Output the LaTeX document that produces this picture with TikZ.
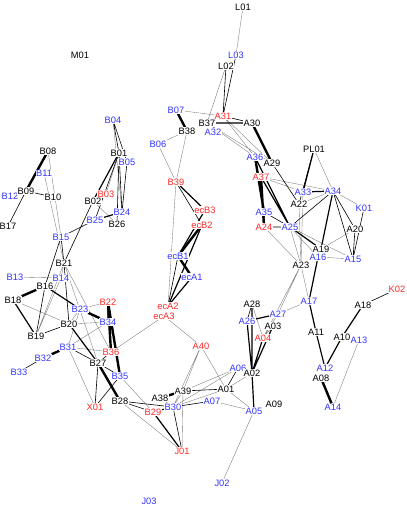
\documentclass[tikz,border=0pt]{standalone}
\usepackage{fontspec}
\setmainfont{Liberation Sans}
\usepackage{xcolor}
\usepackage{tikz}
\usetikzlibrary{backgrounds}
\definecolor{ink}{RGB}{0,0,0}
\definecolor{labblue}{RGB}{51,51,255}
\definecolor{labred}{RGB}{255,40,40}
\definecolor{wire}{RGB}{120,120,120}
\tikzset{
  lab/.style={fill=white, inner sep=0.3pt, font=\fontsize{9.3}{10}\selectfont},
  bk/.style={lab, text=ink},
  bl/.style={lab, text=labblue},
  rd/.style={lab, text=labred},
  ln/.style={draw=wire, line width=0.35pt},
  ed/.style={draw=ink, line width=0.6pt},
  tk/.style={draw=ink, line width=1.2pt},
  vt/.style={draw=ink, line width=2.4pt},
}

\begin{document}
\begin{tikzpicture}[x=1pt, y=-1pt]
  \useasboundingbox (0,0) rectangle (407,509);
  % labels, top part
  \node[bk] (L01) at (243,7) {L01};
  \node[bk] (M01) at (80,55) {M01};
  \node[bl] (L03) at (236,55) {L03};
  \node[bk] (L02) at (226,66) {L02};
  \node[bl] (B07) at (176,110) {B07};
  \node[bl] (A32) at (213,132) {A32};
  \node[rd] (A31) at (223,116) {A31};
  \node[bk] (B37) at (207,123) {B37};
  \node[bk] (A30) at (252,123) {A30};
  \node[bl] (B04) at (113,120) {B04};
  \node[bk] (B38) at (187,131) {B38};
  \node[bl] (B06) at (158,144) {B06};
  \node[bk] (PL01) at (314,149) {PL01};
  \node[bk] (B08) at (48,151) {B08};
  \node[bk] (B01) at (119,153) {B01};
  \node[bl] (A36) at (255,157) {A36};
  \node[bk] (A29) at (272,163) {A29};
  \node[bl] (B05) at (127,162) {B05};
  \node[bl] (B11) at (44,173) {B11};
  \node[rd] (A37) at (261,177) {A37};
  \node[rd] (B39) at (176,182) {B39};
  \node[bl] (K01) at (364,208) {K01};
  \node[bl] (A33) at (303,192) {A33};
  \node[bl] (A34) at (333,191) {A34};
  \node[bl] (B12) at (10,196) {B12};
  \node[bk] (B09) at (26,191) {B09};
  \node[bk] (B10) at (53,197) {B10};
  \node[rd] (B03) at (106,194) {B03};
  \node[bk] (B02) at (93,201) {B02};
  \node[bk] (A22) at (299,204) {A22};
  \node[rd] (ecB3) at (205,210) {ecB3};
  \node[bl] (A35) at (264,212) {A35};
  \node[bl] (B24) at (122,212) {B24};
  \node[bl] (B25) at (95,220) {B25};
  \node[bk] (B26) at (117,224) {B26};
  \node[rd] (ecB2) at (202,225) {ecB2};
  \node[rd] (A24) at (264,227) {A24};
  \node[bl] (A25) at (290,227) {A25};
  \node[bk] (A20) at (355,229) {A20};
  \node[bk] (B17) at (8,226) {B17};
  \node[bl] (B15) at (61,237) {B15};
  % labels, middle part
  \node[bk] (A19) at (321,249) {A19};
  \node[bl] (A16) at (318,257) {A16};
  \node[bl] (A15) at (353,259) {A15};
  \node[bl] (ecB1) at (178,256) {ecB1};
  \node[bk] (B21) at (64,263) {B21};
  \node[bk] (A23) at (301,265) {A23};
  \node[bl] (B13) at (15,277) {B13};
  \node[bl] (ecA1) at (192,277) {ecA1};
  \node[bl] (B14) at (61,278) {B14};
  \node[bk] (B16) at (45,286) {B16};
  \node[rd] (K02) at (397,289) {K02};
  \node[bk] (B18) at (13,300) {B18};
  \node[bl] (A17) at (309,301) {A17};
  \node[rd] (B22) at (108,302) {B22};
  \node[bk] (A28) at (252,304) {A28};
  \node[bk] (A18) at (363,305) {A18};
  \node[rd] (ecA2) at (168,306) {ecA2};
  \node[bl] (B23) at (80,309) {B23};
  \node[bl] (A27) at (278,314) {A27};
  \node[rd] (ecA3) at (164,316) {ecA3};
  \node[bl] (A26) at (247,321) {A26};
  \node[bl] (B34) at (108,322) {B34};
  \node[bk] (B20) at (69,324) {B20};
  \node[bk] (A03) at (273,326) {A03};
  \node[bk] (A11) at (316,332) {A11};
  \node[bk] (B19) at (36,336) {B19};
  \node[bk] (A10) at (342,337) {A10};
  \node[bl] (A13) at (359,340) {A13};
  \node[rd] (A04) at (263,338) {A04};
  \node[rd] (A40) at (201,346) {A40};
  \node[bl] (B31) at (68,347) {B31};
  \node[rd] (B36) at (111,352) {B36};
  \node[bl] (B32) at (43,358) {B32};
  \node[bk] (B27) at (98,363) {B27};
  % labels, bottom part
  \node[bl] (A06) at (238,368) {A06};
  \node[bl] (A12) at (325,368) {A12};
  \node[bk] (A02) at (252,373) {A02};
  \node[bl] (B33) at (19,372) {B33};
  \node[bl] (B35) at (120,376) {B35};
  \node[bk] (A08) at (321,378) {A08};
  \node[bk] (A01) at (226,389) {A01};
  \node[bk] (A39) at (183,391) {A39};
  \node[bk] (A38) at (160,398) {A38};
  \node[bk] (B28) at (120,401) {B28};
  \node[bl] (A07) at (212,401) {A07};
  \node[bk] (A09) at (274,404) {A09};
  \node[rd] (X01) at (95,407) {X01};
  \node[bl] (B30) at (173,407) {B30};
  \node[bl] (A14) at (333,407) {A14};
  \node[bl] (A05) at (254,411) {A05};
  \node[rd] (B29) at (153,412) {B29};
  \node[rd] (J01) at (182,451) {J01};
  \node[bl] (J02) at (222,483) {J02};
  \node[bl] (J03) at (149,501) {J03};

  \begin{scope}[on background layer]
    % thin links
    \draw[ln] (L01)--(L03) (B07)--(A31) (A31)--(A36) (B37)--(A36) (B37)--(A29)
      (A31)--(A29) (L02)--(B37) (B38)--(B06) (B38)--(B39) (B06)--(B39)
      (B39)--(ecA2) (A37)--(A34) (A37)--(A33) (PL01)--(A34) (A34)--(K01)
      (A25)--(A16) (A16)--(A15) (A25)--(A15) (A22)--(A23) (A33)--(A23)
      (A24)--(A23) (A25)--(A23) (A34)--(A22) (A23)--(A17) (A23)--(A27)
      (A23)--(A04) (A17)--(A27) (A13)--(A14) (A28)--(A04) (A03)--(A04)
      (A27)--(A04) (A20)--(A19) (B13)--(B14) (B14)--(B19) (B18)--(B20)
      (B20)--(B23) (B23)--(B22) (B34)--(B31) (B34)--(B20) (B31)--(B23)
      (B31)--(X01) (B36)--(ecA3) (B28)--(J01) (B35)--(B29) (A39)--(B30)
      (A40)--(B30) (A40)--(A39) (A40)--(A01) (ecA3)--(A40) (A39)--(A06)
      (B30)--(A06) (B30)--(A01) (A07)--(A05) (A01)--(A05) (A01)--(A02)
      (A05)--(J02) (A39)--(J01) (A38)--(B30) (B21)--(B27) (B21)--(B36)
      (B21)--(B14) (B21)--(B19) (B04)--(B24) (B08)--(B15) (B11)--(B21)
      (B02)--(B26) (B01)--(B03) (B36)--(B31);
    % normal links
    \draw[ed] (B04)--(B01) (B04)--(B05) (B01)--(B24) (B05)--(B24)
      (B01)--(B25) (B01)--(B26) (B25)--(B15) (B02)--(B21) (B09)--(B10)
      (B09)--(B17) (B12)--(B09) (B15)--(B21) (B15)--(B16) (B21)--(B20)
      (B16)--(B19) (B19)--(B20) (B32)--(B33) (B31)--(B27) (B36)--(B27)
      (B27)--(X01) (B35)--(X01) (B27)--(B35) (B28)--(B29) (B28)--(B30)
      (B30)--(J01) (B39)--(ecB2) (ecB1)--(ecA2) (L03)--(A31) (L02)--(A31)
      (A31)--(A30) (A35)--(A25) (A24)--(A25) (A29)--(A22) (PL01)--(A22)
      (A34)--(A25) (A34)--(A20) (A34)--(A15) (A20)--(A15) (K01)--(A15)
      (A28)--(A26) (A18)--(K02) (A39)--(A01) (A01)--(A06) (B30)--(A07)
      (A19)--(A16);
    % heavy links
    \draw[tk] (B01)--(B02) (B25)--(B24) (B16)--(B23) (B18)--(B19)
      (B20)--(B27) (B22)--(B34) (B39)--(ecB3) (ecB3)--(ecB1) (ecB2)--(ecA2)
      (ecA1)--(ecA2) (B37)--(A30) (A36)--(A25) (A37)--(A25) (A35)--(A24)
      (PL01)--(A33) (A33)--(A34) (A34)--(A19) (A25)--(A19) (A16)--(A17)
      (A17)--(A11) (A11)--(A12) (A12)--(A10) (A10)--(A18) (A27)--(A26)
      (A26)--(A02) (A28)--(A02) (A03)--(A02) (A04)--(A02) (A02)--(A05)
      (B29)--(J01) (B29)--(B30);
    % very heavy links
    \draw[vt] (B08)--(B09) (B16)--(B18) (B23)--(B34) (B22)--(B36)
      (B22)--(B35) (B31)--(B32) (B27)--(B28) (B07)--(B38) (A30)--(A29)
      (A36)--(A35) (A37)--(A24) (ecB2)--(ecB1) (ecB1)--(ecA1) (A08)--(A14)
      (A38)--(A39);
  \end{scope}
\end{tikzpicture}
\end{document}
